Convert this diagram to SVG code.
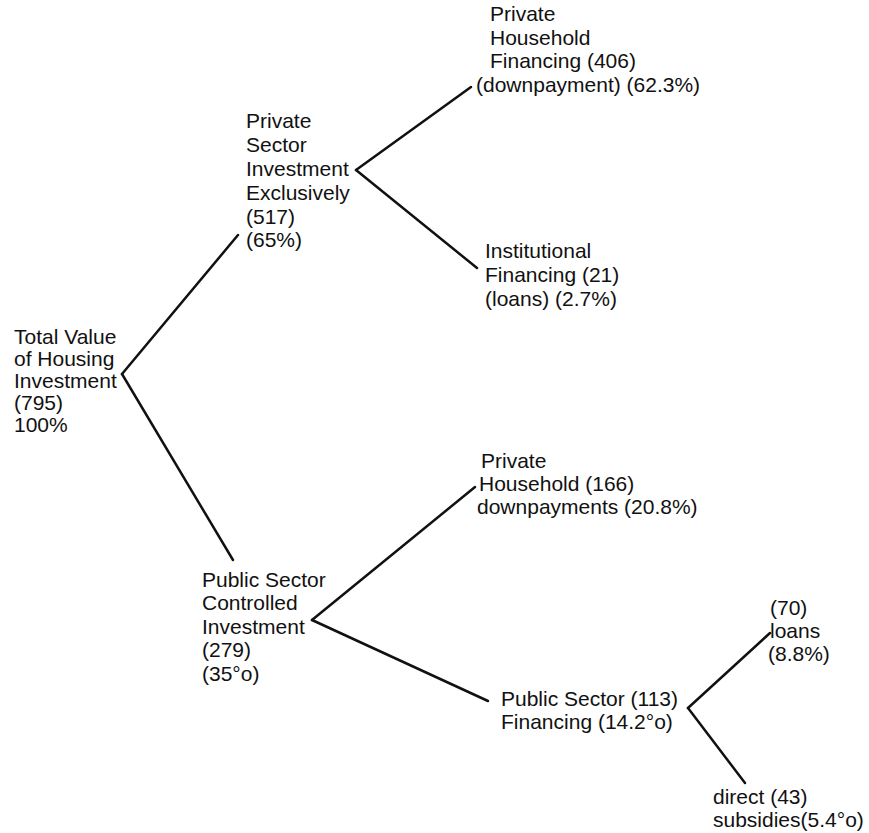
<svg xmlns="http://www.w3.org/2000/svg" width="869" height="833" viewBox="0 0 869 833">
<style>
text { font-family: "Liberation Sans", Arial, Helvetica, sans-serif; font-size: 21px; fill: #111; }
.c line { stroke: #111; stroke-width: 2.5; stroke-linecap: round; }
</style>
<rect width="869" height="833" fill="#fff"/>
<g class="c" id="connectors">
<line x1="122" y1="374" x2="238" y2="235"/>
<line x1="122" y1="374" x2="233" y2="560"/>
<line x1="356" y1="170" x2="471" y2="87"/>
<line x1="356" y1="170" x2="477" y2="268"/>
<line x1="312" y1="620" x2="475" y2="487"/>
<line x1="312" y1="620" x2="488" y2="701"/>
<line x1="688" y1="708" x2="770" y2="633"/>
<line x1="688" y1="708" x2="745" y2="783"/>
</g>
<g id="n-total">
<text><tspan x="14" y="344">Total Value</tspan><tspan x="14" y="366">of Housing</tspan><tspan x="14" y="388">Investment</tspan><tspan x="14" y="410">(795)</tspan><tspan x="14" y="432">100%</tspan></text>
</g>
<g id="n-private-sector">
<text><tspan x="246" y="128">Private</tspan><tspan x="246" y="152">Sector</tspan><tspan x="246" y="176">Investment</tspan><tspan x="246" y="200">Exclusively</tspan><tspan x="246" y="224">(517)</tspan><tspan x="246" y="247">(65%)</tspan></text>
</g>
<g id="n-private-household-financing">
<text><tspan x="490" y="21">Private</tspan><tspan x="490" y="45">Household</tspan><tspan x="490" y="68">Financing (406)</tspan><tspan x="476" y="92">(downpayment) (62.3%)</tspan></text>
</g>
<g id="n-institutional">
<text><tspan x="485" y="258">Institutional</tspan><tspan x="485" y="282">Financing (21)</tspan><tspan x="485" y="306">(loans) (2.7%)</tspan></text>
</g>
<g id="n-public-controlled">
<text><tspan x="202" y="587">Public Sector</tspan><tspan x="202" y="610">Controlled</tspan><tspan x="202" y="634">Investment</tspan><tspan x="202" y="657">(279)</tspan><tspan x="202" y="681">(35°o)</tspan></text>
</g>
<g id="n-private-household-downpayments">
<text><tspan x="481" y="468">Private</tspan><tspan x="479" y="491">Household (166)</tspan><tspan x="477" y="514">downpayments (20.8%)</tspan></text>
</g>
<g id="n-public-financing">
<text><tspan x="501" y="706">Public Sector (113)</tspan><tspan x="501" y="729">Financing (14.2°o)</tspan></text>
</g>
<g id="n-loans">
<text><tspan x="770" y="615">(70)</tspan><tspan x="770" y="638">loans</tspan><tspan x="768" y="661">(8.8%)</tspan></text>
</g>
<g id="n-direct">
<text><tspan x="713" y="804">direct (43)</tspan><tspan x="713" y="827">subsidies(5.4°o)</tspan></text>
</g>
</svg>
